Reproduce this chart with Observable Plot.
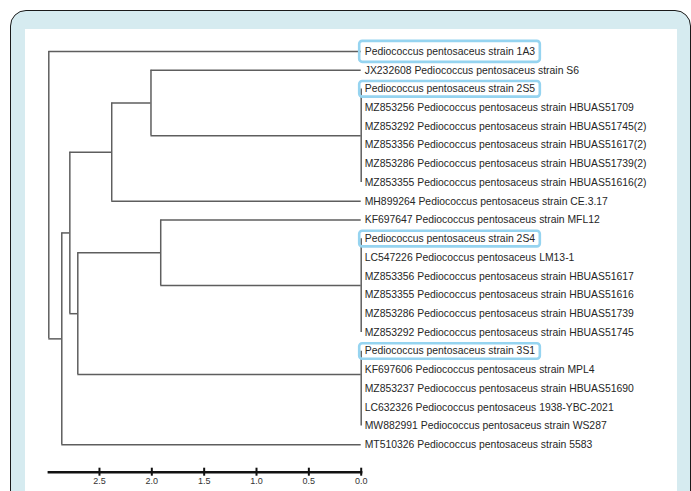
<!DOCTYPE html>
<html>
<head>
<meta charset="utf-8">
<script src="https://cdn.jsdelivr.net/npm/d3@7"></script>
<script src="https://cdn.jsdelivr.net/npm/@observablehq/plot@0.6"></script>
<style>
  html, body { margin: 0; padding: 0; background: #fff; width: 691px; height: 491px; overflow: hidden; }
  #frame { position: absolute; left: 9.5px; top: 9.5px; width: 681px; height: 560px; box-sizing: border-box;
           border: 1.6px solid #1a1a1a; border-radius: 16px; background: #d6ebf0; }
  #panel { position: absolute; left: 25px; top: 29px; width: 652px; height: 462px; background: #fff; }
</style>
</head>
<body>
<div id="frame"></div>
<div id="panel"></div>
<script>
// ---- Data ----
const leaves = [
  "Pediococcus pentosaceus strain 1A3",
  "JX232608 Pediococcus pentosaceus strain S6",
  "Pediococcus pentosaceus strain 2S5",
  "MZ853256 Pediococcus pentosaceus strain HBUAS51709",
  "MZ853292 Pediococcus pentosaceus strain HBUAS51745(2)",
  "MZ853356 Pediococcus pentosaceus strain HBUAS51617(2)",
  "MZ853286 Pediococcus pentosaceus strain HBUAS51739(2)",
  "MZ853355 Pediococcus pentosaceus strain HBUAS51616(2)",
  "MH899264 Pediococcus pentosaceus strain CE.3.17",
  "KF697647 Pediococcus pentosaceus strain MFL12",
  "Pediococcus pentosaceus strain 2S4",
  "LC547226 Pediococcus pentosaceus LM13-1",
  "MZ853356 Pediococcus pentosaceus strain HBUAS51617",
  "MZ853355 Pediococcus pentosaceus strain HBUAS51616",
  "MZ853286 Pediococcus pentosaceus strain HBUAS51739",
  "MZ853292 Pediococcus pentosaceus strain HBUAS51745",
  "Pediococcus pentosaceus strain 3S1",
  "KF697606 Pediococcus pentosaceus strain MPL4",
  "MZ853237 Pediococcus pentosaceus strain HBUAS51690",
  "LC632326 Pediococcus pentosaceus 1938-YBC-2021",
  "MW882991 Pediococcus pentosaceus strain WS287",
  "MT510326 Pediococcus pentosaceus strain 5583"
];
const highlighted = [
  "Pediococcus pentosaceus strain 1A3",
  "Pediococcus pentosaceus strain 2S5",
  "Pediococcus pentosaceus strain 2S4",
  "Pediococcus pentosaceus strain 3S1"
];
// internal nodes: id, height (distance scale), children (leaf index or node id)
const nodeIds      = ["root", "A", "B", "C", "E", "F", "D", "G", "I", "H"];
const nodeHeights  = [2.984, 2.86, 2.783, 2.383, 2.008, 0, 2.707, 1.915, 0, 0];
const nodeChildren = [
  [0, "A"],
  ["B", 21],
  ["C", "D"],
  ["E", 8],
  [1, "F"],
  [2, 3, 4, 5, 6, 7],
  ["G", "H"],
  [9, "I"],
  [10, 11, 12, 13, 14, 15],
  [16, 17, 18, 19, 20]
];
const nodeJoinRow = {H: 17.25}; // where the 3S1 cluster stem joins
const scaleTicks = [2.5, 2.0, 1.5, 1.0, 0.5, 0.0];

// ---- Build tree segments ----
const heightOf = c => typeof c === "number" ? 0 : nodeHeights[nodeIds.indexOf(c)];
const rowCache = {};
function rowOf(c) {
  if (typeof c === "number") return c;
  if (rowCache[c] != null) return rowCache[c];
  if (nodeJoinRow[c] != null) return rowCache[c] = nodeJoinRow[c];
  const ch = nodeChildren[nodeIds.indexOf(c)];
  return rowCache[c] = (rowOf(ch[0]) + rowOf(ch[ch.length - 1])) / 2;
}
const verticals = [], horizontals = [];
nodeIds.forEach((id, k) => {
  const ch = nodeChildren[k], h = nodeHeights[k];
  verticals.push({x: h, y1: rowOf(ch[0]), y2: rowOf(ch[ch.length - 1])});
  ch.forEach(c => horizontals.push({y: rowOf(c), x1: h, x2: heightOf(c)}));
});

const lineColor = "#5e5e5e";
const plot = Plot.plot({
  width: 652,
  height: 462,
  marginLeft: 23.3,
  marginRight: 316.3,
  marginTop: 22,
  marginBottom: 19.3,
  style: {fontFamily: "'Liberation Sans', Arial, sans-serif", background: "white", overflow: "visible"},
  x: {domain: [nodeHeights[0], 0]},
  y: {domain: [0, leaves.length - 1], range: [22, 415.3], axis: null},
  marks: [
    Plot.ruleY(horizontals, {y: "y", x1: "x1", x2: "x2", stroke: lineColor, strokeWidth: 1.5}),
    Plot.ruleX(verticals, {x: "x", y1: "y1", y2: "y2", stroke: lineColor, strokeWidth: 1.5}),
    Plot.text(leaves, {x: () => 0, y: (d, i) => i, text: d => d, textAnchor: "start", dx: 3.5,
                       fontSize: 10.4, fill: "#262626"}),
    Plot.frame({anchor: "bottom", stroke: "#111", strokeWidth: 2.4}),
    Plot.axisX(scaleTicks, {anchor: "bottom", tickSize: 8, dy: -4, tickFormat: () => "",
                            stroke: "#111", strokeWidth: 2}),
    Plot.axisX(scaleTicks, {anchor: "bottom", tickSize: 0, tickPadding: 5,
                            tickFormat: d3.format(".1f"), fontSize: 9, fill: "#333"})
  ]
});
document.getElementById("panel").append(plot);

// highlight boxes around selected labels, sized from the rendered text
const padY = {"Pediococcus pentosaceus strain 1A3": 5};
plot.querySelectorAll('g[aria-label="text"] text').forEach(t => {
  const label = t.textContent;
  if (!highlighted.includes(label)) return;
  const bb = t.getBBox();
  const py = padY[label] ?? 2.3;
  const r = document.createElementNS("http://www.w3.org/2000/svg", "rect");
  r.setAttribute("x", bb.x - 5.5);
  r.setAttribute("y", bb.y - py);
  r.setAttribute("width", bb.width + 10);
  r.setAttribute("height", bb.height + 2 * py);
  r.setAttribute("rx", 3);
  r.setAttribute("fill", "none");
  r.setAttribute("stroke", "#96d4f0");
  r.setAttribute("stroke-width", 2.6);
  if (t.getAttribute("transform")) r.setAttribute("transform", t.getAttribute("transform"));
  t.parentNode.insertBefore(r, t);
});
</script>
</body>
</html>
